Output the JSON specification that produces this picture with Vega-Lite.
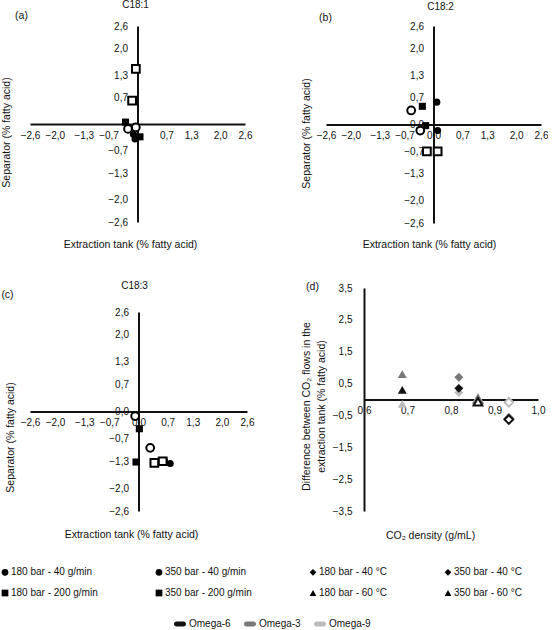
{
  "$schema": "https://vega.github.io/schema/vega-lite/v6.json",
  "padding": 0,
  "datasets": {
    "c181": [
      {"cond": "180 bar - 40 g/min", "pressure": 180, "tank": -0.10, "sep": -0.27},
      {"cond": "180 bar - 40 g/min", "pressure": 180, "tank": -0.06, "sep": -0.40},
      {"cond": "180 bar - 200 g/min", "pressure": 180, "tank": -0.29, "sep": 0.05},
      {"cond": "180 bar - 200 g/min", "pressure": 180, "tank": 0.06, "sep": -0.34},
      {"cond": "350 bar - 40 g/min", "pressure": 350, "tank": -0.23, "sep": -0.13},
      {"cond": "350 bar - 40 g/min", "pressure": 350, "tank": -0.04, "sep": -0.09},
      {"cond": "350 bar - 200 g/min", "pressure": 350, "tank": -0.04, "sep": 1.46},
      {"cond": "350 bar - 200 g/min", "pressure": 350, "tank": -0.13, "sep": 0.62}
    ],
    "c182": [
      {"cond": "180 bar - 40 g/min", "pressure": 180, "tank": 0.08, "sep": 0.59},
      {"cond": "180 bar - 40 g/min", "pressure": 180, "tank": 0.10, "sep": -0.16},
      {"cond": "180 bar - 200 g/min", "pressure": 180, "tank": -0.27, "sep": 0.48},
      {"cond": "180 bar - 200 g/min", "pressure": 180, "tank": -0.19, "sep": -0.03},
      {"cond": "350 bar - 40 g/min", "pressure": 350, "tank": -0.54, "sep": 0.37},
      {"cond": "350 bar - 40 g/min", "pressure": 350, "tank": -0.32, "sep": -0.16},
      {"cond": "350 bar - 200 g/min", "pressure": 350, "tank": -0.16, "sep": -0.71},
      {"cond": "350 bar - 200 g/min", "pressure": 350, "tank": 0.10, "sep": -0.71}
    ],
    "c183": [
      {"cond": "180 bar - 40 g/min", "pressure": 180, "tank": 0.62, "sep": -1.28},
      {"cond": "180 bar - 40 g/min", "pressure": 180, "tank": 0.76, "sep": -1.36},
      {"cond": "180 bar - 200 g/min", "pressure": 180, "tank": 0.02, "sep": -0.45},
      {"cond": "180 bar - 200 g/min", "pressure": 180, "tank": -0.06, "sep": -1.32},
      {"cond": "350 bar - 40 g/min", "pressure": 350, "tank": -0.08, "sep": -0.12},
      {"cond": "350 bar - 40 g/min", "pressure": 350, "tank": 0.28, "sep": -0.95},
      {"cond": "350 bar - 200 g/min", "pressure": 350, "tank": 0.38, "sep": -1.34},
      {"cond": "350 bar - 200 g/min", "pressure": 350, "tank": 0.58, "sep": -1.30}
    ],
    "density": [
      {"cond": "180 bar - 60 °C", "pressure": 180, "omega": "Omega-9", "density": 0.688, "diff": -0.14},
      {"cond": "180 bar - 60 °C", "pressure": 180, "omega": "Omega-3", "density": 0.688, "diff": 0.80},
      {"cond": "180 bar - 60 °C", "pressure": 180, "omega": "Omega-6", "density": 0.688, "diff": 0.30},
      {"cond": "180 bar - 40 °C", "pressure": 180, "omega": "Omega-9", "density": 0.818, "diff": 0.22},
      {"cond": "180 bar - 40 °C", "pressure": 180, "omega": "Omega-3", "density": 0.818, "diff": 0.70},
      {"cond": "180 bar - 40 °C", "pressure": 180, "omega": "Omega-6", "density": 0.818, "diff": 0.35},
      {"cond": "350 bar - 60 °C", "pressure": 350, "omega": "Omega-9", "density": 0.862, "diff": 0.03},
      {"cond": "350 bar - 60 °C", "pressure": 350, "omega": "Omega-3", "density": 0.862, "diff": 0.0},
      {"cond": "350 bar - 60 °C", "pressure": 350, "omega": "Omega-6", "density": 0.862, "diff": -0.07},
      {"cond": "350 bar - 40 °C", "pressure": 350, "omega": "Omega-9", "density": 0.933, "diff": -0.09},
      {"cond": "350 bar - 40 °C", "pressure": 350, "omega": "Omega-3", "density": 0.933, "diff": -0.60},
      {"cond": "350 bar - 40 °C", "pressure": 350, "omega": "Omega-6", "density": 0.933, "diff": -0.63}
    ]
  },
  "columns": 2,
  "align": "none",
  "spacing": {"row": 31, "column": 47},
  "concat": [
    {
      "width": 215,
      "height": 196,
      "title": {"text": "C18:1", "offset": 0, "dx": -2},
      "data": {"name": "c181"},
      "encoding": {
        "x": {
          "field": "tank", "type": "quantitative",
          "scale": {"domain": [-2.6, 2.6], "nice": false, "zero": false},
          "axis": {
            "offset": -98, "labelPadding": 6,
            "values": [-2.6, -2, -1.3, -0.7, 0.7, 1.3, 2, 2.6],
            "labelExpr": "replace(format(datum.value, '.1f'), '.', ',')",
            "title": "Extraction tank (% fatty acid)",
            "titleX": 100, "titleY": 120, "titleBaseline": "middle", "titleAlign": "center"
          }
        },
        "y": {
          "field": "sep", "type": "quantitative",
          "scale": {"domain": [-2.6, 2.6], "nice": false, "zero": false},
          "axis": {
            "offset": -107.5, "labelPadding": 10,
            "values": [-2.6, -2, -1.3, -0.7, 0.7, 1.3, 2, 2.6],
            "labelExpr": "replace(format(datum.value, '.1f'), '.', ',')",
            "title": "Separator (% fatty acid)",
            "titleX": -131, "titleY": 106, "titleAngle": 270, "titleBaseline": "middle", "titleAlign": "center"
          }
        },
        "shape": {
          "field": "cond", "type": "nominal",
          "scale": {
            "domain": ["180 bar - 40 g/min", "350 bar - 40 g/min", "180 bar - 40 °C", "350 bar - 40 °C", "180 bar - 200 g/min", "350 bar - 200 g/min", "180 bar - 60 °C", "350 bar - 60 °C"],
            "range": ["circle", "circle", "diamond", "diamond", "square", "square", "triangle-up", "triangle-up"]
          },
          "legend": {
            "title": null, "orient": "none", "legendX": -30, "legendY": 541,
            "direction": "horizontal", "columns": 4, "columnPadding": 54, "rowPadding": 7,
            "symbolSize": 45, "labelOffset": 1,
            "encode": {
              "symbols": {
                "fill": {"value": {"expr": "indexof(datum.value, '350') === 0 ? 'white' : 'black'"}},
                "stroke": {"value": "black"},
                "strokeWidth": {"value": {"expr": "indexof(datum.value, '350') === 0 ? 2 : 0"}},
                "opacity": {"value": 1}
              }
            }
          }
        }
      },
      "layer": [
        {
          "transform": [{"filter": "datum.pressure == 180"}],
          "mark": {"type": "point", "filled": true, "size": 50, "color": "black", "opacity": 1}
        },
        {
          "transform": [{"filter": "datum.pressure == 350"}],
          "mark": {"type": "point", "filled": false, "fill": "white", "strokeWidth": 2, "size": 60, "color": "black", "opacity": 1},
          "encoding": {
            "x": {
              "field": "tank", "type": "quantitative",
              "scale": {"domain": [-2.6, 2.6], "nice": false, "zero": false},
              "axis": {"orient": "top", "domain": false, "labels": false, "title": "(a)", "titleX": -9, "titleY": -11, "titleBaseline": "middle", "titleAlign": "center"}
            }
          }
        }
      ],
      "resolve": {"axis": {"x": "independent"}}
    },
    {
      "width": 215,
      "height": 197,
      "title": {"text": "C18:2", "offset": 0, "dx": 7},
      "data": {"name": "c182"},
      "encoding": {
        "x": {
          "field": "tank", "type": "quantitative",
          "scale": {"domain": [-2.6, 2.6], "nice": false, "zero": false},
          "axis": {
            "offset": -98.5, "labelPadding": 6,
            "values": [-2.6, -2, -1.3, -0.7, 0, 0.7, 1.3, 2, 2.6],
            "labelExpr": "replace(format(datum.value, '.1f'), '.', ',')",
            "title": "Extraction tank (% fatty acid)",
            "titleX": 103, "titleY": 119.5, "titleBaseline": "middle", "titleAlign": "center"
          }
        },
        "y": {
          "field": "sep", "type": "quantitative",
          "scale": {"domain": [-2.6, 2.6], "nice": false, "zero": false},
          "axis": {
            "offset": -107.5, "labelPadding": 10,
            "values": [-2.6, -2, -1.3, -0.7, 0, 0.7, 1.3, 2, 2.6],
            "labelExpr": "replace(format(datum.value, '.1f'), '.', ',')",
            "title": "Separator (% fatty acid)",
            "titleX": -127.5, "titleY": 107, "titleAngle": 270, "titleBaseline": "middle", "titleAlign": "center"
          }
        },
        "shape": {
          "field": "cond", "type": "nominal",
          "scale": {
            "domain": ["180 bar - 40 g/min", "350 bar - 40 g/min", "180 bar - 40 °C", "350 bar - 40 °C", "180 bar - 200 g/min", "350 bar - 200 g/min", "180 bar - 60 °C", "350 bar - 60 °C"],
            "range": ["circle", "circle", "diamond", "diamond", "square", "square", "triangle-up", "triangle-up"]
          },
          "legend": {
            "title": null, "orient": "none", "legendX": -30, "legendY": 541,
            "direction": "horizontal", "columns": 4, "columnPadding": 54, "rowPadding": 7,
            "symbolSize": 45, "labelOffset": 1,
            "encode": {
              "symbols": {
                "fill": {"value": {"expr": "indexof(datum.value, '350') === 0 ? 'white' : 'black'"}},
                "stroke": {"value": "black"},
                "strokeWidth": {"value": {"expr": "indexof(datum.value, '350') === 0 ? 2 : 0"}},
                "opacity": {"value": 1}
              }
            }
          }
        }
      },
      "layer": [
        {
          "transform": [{"filter": "datum.pressure == 180"}],
          "mark": {"type": "point", "filled": true, "size": 50, "color": "black", "opacity": 1}
        },
        {
          "transform": [{"filter": "datum.pressure == 350"}],
          "mark": {"type": "point", "filled": false, "fill": "white", "strokeWidth": 2, "size": 60, "color": "black", "opacity": 1},
          "encoding": {
            "x": {
              "field": "tank", "type": "quantitative",
              "scale": {"domain": [-2.6, 2.6], "nice": false, "zero": false},
              "axis": {"orient": "top", "domain": false, "labels": false, "title": "(b)", "titleX": -1, "titleY": -9, "titleBaseline": "middle", "titleAlign": "center"}
            }
          }
        }
      ],
      "resolve": {"axis": {"x": "independent"}}
    },
    {
      "width": 217,
      "height": 199,
      "title": {"text": "C18:3", "offset": -2, "dx": -4},
      "data": {"name": "c183"},
      "encoding": {
        "x": {
          "field": "tank", "type": "quantitative",
          "scale": {"domain": [-2.6, 2.6], "nice": false, "zero": false},
          "axis": {
            "offset": -99.5, "labelPadding": 6,
            "values": [-2.6, -2, -1.3, -0.7, 0, 0.7, 1.3, 2, 2.6],
            "labelExpr": "replace(format(datum.value, '.1f'), '.', ',')",
            "title": "Extraction tank (% fatty acid)",
            "titleX": 101, "titleY": 122.5, "titleBaseline": "middle", "titleAlign": "center"
          }
        },
        "y": {
          "field": "sep", "type": "quantitative",
          "scale": {"domain": [-2.6, 2.6], "nice": false, "zero": false},
          "axis": {
            "offset": -108.5, "labelPadding": 10,
            "values": [-2.6, -2, -1.3, -0.7, 0, 0.7, 1.3, 2, 2.6],
            "labelExpr": "replace(format(datum.value, '.1f'), '.', ',')",
            "title": "Separator (% fatty acid)",
            "titleX": -128.5, "titleY": 125, "titleAngle": 270, "titleBaseline": "middle", "titleAlign": "center"
          }
        },
        "shape": {
          "field": "cond", "type": "nominal",
          "scale": {
            "domain": ["180 bar - 40 g/min", "350 bar - 40 g/min", "180 bar - 40 °C", "350 bar - 40 °C", "180 bar - 200 g/min", "350 bar - 200 g/min", "180 bar - 60 °C", "350 bar - 60 °C"],
            "range": ["circle", "circle", "diamond", "diamond", "square", "square", "triangle-up", "triangle-up"]
          },
          "legend": {
            "title": null, "orient": "none", "legendX": -30, "legendY": 541,
            "direction": "horizontal", "columns": 4, "columnPadding": 54, "rowPadding": 7,
            "symbolSize": 45, "labelOffset": 1,
            "encode": {
              "symbols": {
                "fill": {"value": {"expr": "indexof(datum.value, '350') === 0 ? 'white' : 'black'"}},
                "stroke": {"value": "black"},
                "strokeWidth": {"value": {"expr": "indexof(datum.value, '350') === 0 ? 2 : 0"}},
                "opacity": {"value": 1}
              }
            }
          }
        }
      },
      "layer": [
        {
          "transform": [{"filter": "datum.pressure == 180"}],
          "mark": {"type": "point", "filled": true, "size": 50, "color": "black", "opacity": 1}
        },
        {
          "transform": [{"filter": "datum.pressure == 350"}],
          "mark": {"type": "point", "filled": false, "fill": "white", "strokeWidth": 2, "size": 60, "color": "black", "opacity": 1},
          "encoding": {
            "x": {
              "field": "tank", "type": "quantitative",
              "scale": {"domain": [-2.6, 2.6], "nice": false, "zero": false},
              "axis": {"orient": "top", "domain": false, "labels": false, "title": "(c)", "titleX": -23, "titleY": -18, "titleBaseline": "middle", "titleAlign": "center"}
            }
          }
        }
      ],
      "resolve": {"axis": {"x": "independent"}}
    },
    {
      "width": 174,
      "height": 223,
      "data": {"name": "density"},
      "encoding": {
        "x": {
          "field": "density", "type": "quantitative",
          "scale": {"domain": [0.6, 1.0], "nice": false, "zero": false},
          "axis": {
            "offset": -111.5, "labelPadding": 6,
            "values": [0.6, 0.7, 0.8, 0.9, 1.0],
            "labelExpr": "replace(format(datum.value, '.1f'), '.', ',')",
            "title": "CO₂ density (g/mL)",
            "titleX": 66, "titleY": 136, "titleBaseline": "middle", "titleAlign": "center"
          }
        },
        "y": {
          "field": "diff", "type": "quantitative",
          "scale": {"domain": [-3.5, 3.5], "nice": false, "zero": false},
          "axis": {
            "labelPadding": 12,
            "values": [-3.5, -2.5, -1.5, -0.5, 0.5, 1.5, 2.5, 3.5],
            "labelExpr": "replace(format(datum.value, '.1f'), '.', ',')",
            "title": ["Difference between CO₂ flows in the", "extraction tank (% fatty acid)"],
            "titleLineHeight": 15,
            "titleX": -58, "titleY": 118, "titleAngle": 270, "titleBaseline": "middle", "titleAlign": "center"
          }
        },
        "shape": {
          "field": "cond", "type": "nominal",
          "scale": {
            "domain": ["180 bar - 40 g/min", "350 bar - 40 g/min", "180 bar - 40 °C", "350 bar - 40 °C", "180 bar - 200 g/min", "350 bar - 200 g/min", "180 bar - 60 °C", "350 bar - 60 °C"],
            "range": ["circle", "circle", "diamond", "diamond", "square", "square", "triangle-up", "triangle-up"]
          },
          "legend": {
            "title": null, "orient": "none", "legendX": -30, "legendY": 541,
            "direction": "horizontal", "columns": 4, "columnPadding": 54, "rowPadding": 7,
            "symbolSize": 45, "labelOffset": 1,
            "encode": {
              "symbols": {
                "fill": {"value": {"expr": "indexof(datum.value, '350') === 0 ? 'white' : 'black'"}},
                "stroke": {"value": "black"},
                "strokeWidth": {"value": {"expr": "indexof(datum.value, '350') === 0 ? 2 : 0"}},
                "opacity": {"value": 1}
              }
            }
          }
        },
        "color": {
          "field": "omega", "type": "nominal",
          "scale": {"domain": ["Omega-6", "Omega-3", "Omega-9"], "range": ["#111111", "#777777", "#bbbbbb"]},
          "legend": {
            "title": null, "orient": "none", "legendX": 144, "legendY": 592,
            "direction": "horizontal", "columnPadding": 12, "labelOffset": 3,
            "symbolType": "M-0.6,-0.4 L0.6,-0.4 A0.4,0.4 0 0 1 0.6,0.4 L-0.6,0.4 A0.4,0.4 0 0 1 -0.6,-0.4 Z",
            "symbolSize": 144, "symbolStrokeWidth": 0, "symbolOpacity": 1
          }
        }
      },
      "layer": [
        {
          "transform": [{"filter": "datum.pressure == 180"}],
          "mark": {"type": "point", "filled": true, "size": 80, "opacity": 1}
        },
        {
          "transform": [{"filter": "datum.pressure == 350"}],
          "mark": {"type": "point", "filled": false, "fill": "white", "strokeWidth": 2, "size": 75, "opacity": 1},
          "encoding": {
            "x": {
              "field": "density", "type": "quantitative",
              "scale": {"domain": [0.6, 1.0], "nice": false, "zero": false},
              "axis": {"orient": "top", "domain": false, "labels": false, "title": "(d)", "titleX": -52, "titleY": -2, "titleBaseline": "middle", "titleAlign": "center"}
            }
          }
        }
      ],
      "resolve": {"axis": {"x": "independent"}}
    }
  ],
  "config": {
    "font": "Liberation Sans",
    "view": {"stroke": null},
    "axis": {
      "domainColor": "#111111", "domainWidth": 2, "ticks": false, "grid": false,
      "labelFontSize": 10, "labelColor": "#111111", "labelFlush": false, "labelOverlap": false, "labelBound": false,
      "titleFontSize": 10.5, "titleFontWeight": "normal", "titleColor": "#111111"
    },
    "title": {"fontSize": 10, "fontWeight": "normal", "color": "#111111", "anchor": "middle", "frame": "group"},
    "legend": {"labelFontSize": 10, "labelColor": "#111111"}
  }
}
